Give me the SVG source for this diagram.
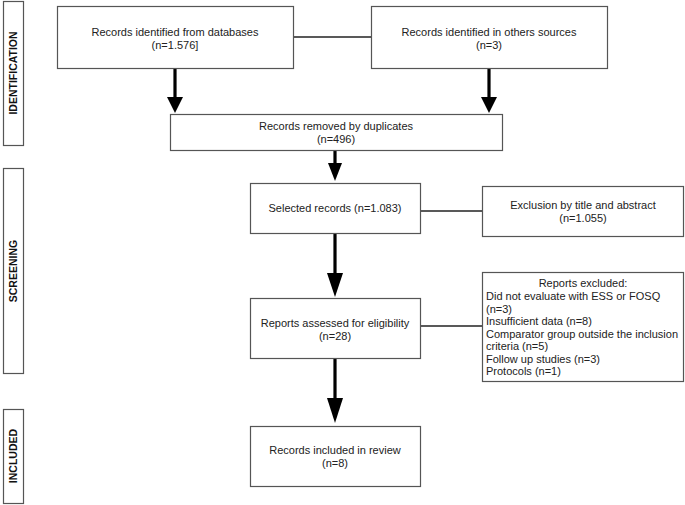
<svg xmlns="http://www.w3.org/2000/svg" width="685" height="505" viewBox="0 0 685 505">
<style>
.box{fill:#fff;stroke:#555;stroke-width:1.2}
.t{font-family:"Liberation Sans",Arial,sans-serif;font-size:11px;fill:#222}
.c{text-anchor:middle}
.lab{font-family:"Liberation Sans",Arial,sans-serif;font-size:10.5px;font-weight:bold;fill:#111;text-anchor:middle}
.ln{stroke:#222;stroke-width:1.6;fill:none}
.ar{stroke:#000;stroke-width:3.2;fill:none}
.hd{fill:#000}
</style>
<rect width="685" height="505" fill="#fff"/>
<g id="label-identification"><rect class="box" x="3.5" y="1.5" width="20" height="144"/><text class="lab" transform="translate(17,73) rotate(-90)">IDENTIFICATION</text></g>
<g id="label-screening"><rect class="box" x="3.5" y="168.5" width="20" height="205"/><text class="lab" transform="translate(17,271) rotate(-90)">SCREENING</text></g>
<g id="label-included"><rect class="box" x="3.5" y="409.5" width="20" height="94"/><text class="lab" transform="translate(17,456) rotate(-90)">INCLUDED</text></g>
<g id="connectors">
<line class="ln" x1="293" y1="37" x2="371" y2="37"/>
<line class="ln" x1="420" y1="211" x2="482" y2="211"/>
<line class="ln" x1="420" y1="326" x2="482" y2="326"/>
<line class="ar" x1="175" y1="68" x2="175" y2="100"/><polygon class="hd" points="167,97 183,97 175,113"/>
<line class="ar" x1="489" y1="68" x2="489" y2="100"/><polygon class="hd" points="481,97 497,97 489,113"/>
<line class="ar" x1="335" y1="150" x2="335" y2="166"/><polygon class="hd" points="328,163 342,163 335,181"/>
<line class="ar" x1="335" y1="233" x2="335" y2="276"/><polygon class="hd" points="327,273 343,273 335,297"/>
<line class="ar" x1="335" y1="358" x2="335" y2="401"/><polygon class="hd" points="327,398 343,398 335,423"/>
</g>
<g id="n-databases"><rect class="box" x="57.5" y="6.5" width="236" height="62"/><text class="t c" x="175" y="36">Records identified from databases</text><text class="t c" x="175" y="49">(n=1.576]</text></g>
<g id="n-others"><rect class="box" x="371.5" y="6.5" width="236" height="62"/><text class="t c" x="489" y="36">Records identified in others sources</text><text class="t c" x="489" y="49">(n=3)</text></g>
<g id="n-duplicates"><rect class="box" x="170.5" y="114.5" width="332" height="36"/><text class="t c" x="336" y="130">Records removed by duplicates</text><text class="t c" x="336" y="143">(n=496)</text></g>
<g id="n-selected"><rect class="box" x="250.5" y="183.5" width="170" height="50"/><text class="t c" x="335" y="212">Selected records (n=1.083)</text></g>
<g id="n-exclusion"><rect class="box" x="482.5" y="186.5" width="201" height="50"/><text class="t c" x="583" y="209">Exclusion by title and abstract</text><text class="t c" x="583" y="222">(n=1.055)</text></g>
<g id="n-assessed"><rect class="box" x="250.5" y="298.5" width="170" height="60"/><text class="t c" x="335" y="327">Reports assessed for eligibility</text><text class="t c" x="335" y="340">(n=28)</text></g>
<g id="n-excluded"><rect class="box" x="482.5" y="272.5" width="201" height="109"/>
<text class="t c" x="583" y="287">Reports excluded:</text>
<text class="t" x="486" y="300">Did not evaluate with ESS or FOSQ</text>
<text class="t" x="486" y="312.5">(n=3)</text>
<text class="t" x="486" y="325">Insufficient data (n=8)</text>
<text class="t" x="486" y="337.5">Comparator group outside the inclusion</text>
<text class="t" x="486" y="350">criteria (n=5)</text>
<text class="t" x="486" y="362.5">Follow up studies (n=3)</text>
<text class="t" x="486" y="375">Protocols (n=1)</text>
</g>
<g id="n-included"><rect class="box" x="250.5" y="426.5" width="170" height="60"/><text class="t c" x="335" y="454">Records included in review</text><text class="t c" x="335" y="467">(n=8)</text></g>
</svg>
